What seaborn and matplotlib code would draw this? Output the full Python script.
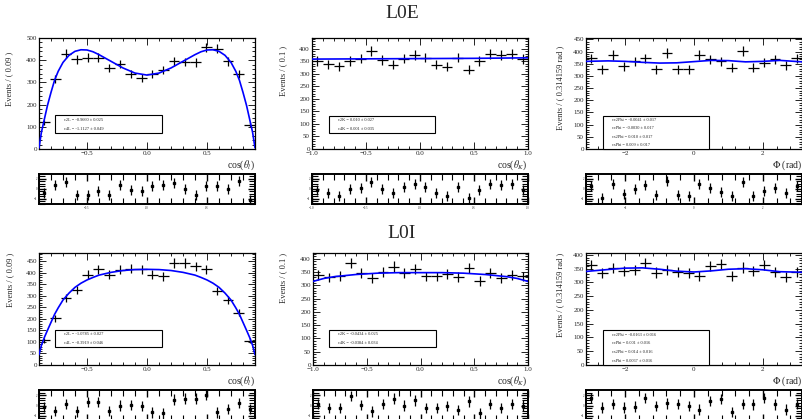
import numpy as np
import matplotlib
matplotlib.use("Agg")
import matplotlib.pyplot as plt
import seaborn as sns
from matplotlib.ticker import MultipleLocator
from matplotlib.patches import Rectangle

sns.set_theme(style="ticks")
plt.rcParams['font.family'] = ['Liberation Serif', 'DejaVu Serif']
plt.rcParams['mathtext.fontset'] = 'stix'
plt.rcParams['axes.unicode_minus'] = True

W, H = 802, 419
PI = np.pi

# ---- L0E data ----
e_cosl_counts = [120, 315, 429, 405, 410, 410, 365, 383, 339, 320,
                 339, 357, 395, 392, 390, 458, 452, 395, 339, 110]
e_cosl_pulls = [-0.8, 0.75, 1.43, -1.16, -1.16, -0.41, -1.16, 0.75, -0.14, -0.41,
                0.55, 0.75, 1.23, 0.07, -1.3, 0.61, 0.61, 0.07, 1.64, -2.2]
e_cosl_fit_x = [-0.9, -0.88, -0.855, -0.83, -0.8, -0.77, -0.74, -0.7, -0.65, -0.6,
                -0.55, -0.5, -0.45, -0.4, -0.3, -0.2, -0.1, 0.0, 0.1, 0.2,
                0.3, 0.4, 0.45, 0.5, 0.55, 0.6, 0.65, 0.7, 0.74, 0.77,
                0.8, 0.83, 0.855, 0.88, 0.9]
e_cosl_fit_y = [5, 75, 135, 195, 255, 310, 350, 390, 422, 440,
                447, 446, 438, 425, 395, 365, 342, 333, 342, 365,
                395, 425, 438, 446, 447, 440, 422, 390, 350, 310,
                255, 195, 135, 75, 5]

e_cosk_counts = [351, 338, 329, 351, 360, 390, 355, 336, 360, 373,
                 364, 336, 328, 364, 316, 351, 377, 373, 377, 358]
e_cosk_pulls = [-0.2, -0.87, -1.33, -0.07, 0.13, 1.47, -0.07, -0.87, 0.33, 0.93,
                0.47, -0.87, -1.33, 0.47, -1.87, -0.2, 1.0, 0.8, 1.0, -0.2]
e_cosk_fit_x = [-1.0, -0.5, 0.0, 0.5, 1.0]
e_cosk_fit_y = [358, 359, 360, 361, 363]

e_phi_counts = [373, 327, 387, 340, 360, 373, 328, 395, 328, 327,
                387, 368, 360, 333, 404, 333, 355, 368, 344, 373]
e_phi_pulls = [0.55, -1.77, 1.09, -1.09, 0.07, 0.75, -1.3, 1.64, -1.3, -1.5,
               1.09, 0.27, -0.61, -1.5, 1.43, -1.5, -0.48, 0.27, -0.82, 0.61]
e_phi_fit_x = [-PI, -2.5, -2.0, -1.5, -1.0, -0.5, 0.0, 0.5, 1.0, 1.5, 2.0, 2.5, PI]
e_phi_fit_y = [360, 362, 360, 356, 353, 354, 359, 364, 363, 358, 360, 364, 358]

# ---- L0I data ----
i_cosl_counts = [108, 202, 292, 324, 392, 415, 392, 414, 418, 415,
                 392, 386, 442, 442, 428, 415, 320, 281, 226, 105]
i_cosl_pulls = [-0.33, -1.0, 0.33, -1.13, 0.67, 0.67, -1.0, 0.0, 0.13, -0.13,
                -1.33, -1.53, 1.13, 1.33, 1.33, 2.0, -1.33, -0.67, 0.53, -0.67]
i_cosl_fit_x = e_cosl_fit_x
i_cosl_fit_y = [45, 85, 120, 150, 185, 220, 248, 282, 312, 337,
                355, 369, 380, 390, 402, 410, 414, 415, 414, 410,
                402, 390, 380, 369, 355, 337, 312, 282, 248, 220,
                185, 150, 120, 85, 45]

i_cosk_counts = [340, 330, 336, 384, 346, 328, 350, 371, 346, 362,
                 334, 334, 342, 331, 365, 317, 346, 328, 340, 334]
i_cosk_pulls = [0.33, -0.53, -0.53, 1.87, 0.13, -1.13, 0.33, 1.33, 0.0, 1.0,
                -0.53, -0.53, -0.13, -0.87, 0.8, -1.53, 0.33, -0.53, 0.33, 0.0]
i_cosk_fit_x = [-1.0, -0.9, -0.8, -0.6, -0.4, -0.2, 0.0, 0.2, 0.4, 0.6, 0.8, 0.9, 1.0]
i_cosk_fit_y = [315, 326, 333, 341, 346, 348, 348, 348, 346, 341, 333, 326, 315]

i_phi_counts = [364, 333, 352, 343, 345, 370, 336, 345, 337, 333,
                324, 360, 367, 324, 354, 342, 364, 337, 319, 337]
i_phi_pulls = [1.4, -0.4, 0.3, -0.4, -0.2, 1.4, -0.1, 0.4, 0.3, -0.1,
               -0.8, 0.9, 1.2, -1.3, 0.3, 0.2, 1.4, 0.2, -0.8, 0.3]
i_phi_fit_x = e_phi_fit_x
i_phi_fit_y = [340, 347, 352, 353, 348, 341, 338, 342, 348, 350, 346, 339, 337]

# fit results printed in the boxes
e_cosl_text = ["c2L = -0.9660 ± 0.025", "c4L = -1.1127 ± 0.049"]
e_cosk_text = ["c2K = 0.010 ± 0.027", "c4K = 0.001 ± 0.035"]
e_phi_text = ["cc2Phi = -0.0041 ± 0.017", "ccPhi = -0.0030 ± 0.017",
              "cs2Phi = 0.010 ± 0.017", "csPhi = 0.009 ± 0.017"]
i_cosl_text = ["c2L = -1.0785 ± 0.027", "c4L = -0.3919 ± 0.046"]
i_cosk_text = ["c2K = -0.0434 ± 0.025", "c4K = -0.0384 ± 0.034"]
i_phi_text = ["cc2Phi = -0.0163 ± 0.016", "ccPhi = 0.001 ± 0.016",
              "cs2Phi = 0.014 ± 0.016", "csPhi = 0.0067 ± 0.016"]

fig = plt.figure(figsize=(W / 100, H / 100), dpi=100)


def add_ax(x0, x1, ytop, ybot):
    return fig.add_axes([x0 / W, 1 - ybot / H, (x1 - x0) / W, (ybot - ytop) / H])


def style(ax, xmaj, xmin, ymaj, ymin, lsize=5):
    ax.xaxis.set_major_locator(MultipleLocator(xmaj))
    ax.xaxis.set_minor_locator(MultipleLocator(xmin))
    ax.yaxis.set_major_locator(MultipleLocator(ymaj))
    ax.yaxis.set_minor_locator(MultipleLocator(ymin))
    ax.tick_params(which='both', direction='in', top=True, right=True,
                   labelsize=lsize, pad=1.5, width=0.6, color='black')
    ax.tick_params(which='major', length=5)
    ax.tick_params(which='minor', length=2.5)
    for s in ax.spines.values():
        s.set_linewidth(0.9)
        s.set_color('black')
    ax.set_facecolor('white')


def panel(x0, x1, ytop, ybot, ptop, pbot, lo, hi, counts, pulls, fx, fy,
          ymax, ymaj, ymin, xmaj, xmin, ylab, ylab_pos, xlab, box, lines,
          pull_xlabels=True):
    n = len(counts)
    w = (hi - lo) / n
    centers = lo + w * (np.arange(n) + 0.5)
    ax = add_ax(x0, x1, ytop, ybot)
    ax.errorbar(centers, counts, xerr=w / 2, yerr=np.sqrt(counts), fmt='none',
                ecolor='black', elinewidth=0.9, capsize=0, zorder=4)
    sns.lineplot(x=fx, y=fy, ax=ax, color='blue', lw=1.2, sort=False, zorder=5)
    ax.set_xlim(lo, hi)
    ax.set_ylim(0, ymax)
    style(ax, xmaj, xmin, ymaj, ymin)
    ax.set_xlabel('')
    ax.set_ylabel('')
    ax.text(ylab_pos[0], ylab_pos[1], ylab, transform=ax.transAxes, rotation=90,
            ha='center', va='top', fontsize=6)
    ax.text(1.0, -0.145, xlab, transform=ax.transAxes, ha='right', va='center',
            fontsize=7)
    bx0, bx1, by0, by1 = box
    ax.add_patch(Rectangle((bx0, by0), bx1 - bx0, by1 - by0, transform=ax.transAxes,
                           facecolor='white', edgecolor='black', lw=0.8, zorder=6,
                           clip_on=False))
    step = (by1 - by0) / len(lines)
    for k, t in enumerate(lines):
        ax.text(bx0 + 0.04, by1 - step * (k + 0.5), t, transform=ax.transAxes,
                ha='left', va='center', fontsize=3.2, zorder=7)

    pax = add_ax(x0, x1, ptop, pbot)
    pax.errorbar(centers, pulls, yerr=1, fmt='s', ms=2, color='black',
                 elinewidth=0.9, capsize=0, zorder=4)
    pax.set_xlim(lo, hi)
    pax.set_ylim(-3, 3)
    style(pax, xmaj, xmin, 2, 0.5, lsize=2.2)
    pax.tick_params(which='major', length=5, width=1.0)
    pax.tick_params(which='minor', length=4, width=0.8)
    if not pull_xlabels:
        pax.tick_params(labelbottom=False)
    for s in pax.spines.values():
        s.set_linewidth(1.4)
    return ax, pax


rows = [
    dict(ytop=38, ybot=149, ptop=174, pbot=204, xlabels=True, data=[
        (39, 255, -0.9, 0.9, e_cosl_counts, e_cosl_pulls, e_cosl_fit_x, e_cosl_fit_y,
         500, 100, 20, 0.5, 0.1, "Events / ( 0.09 )", (-0.139, 0.88),
         r"cos($\theta_{l}$)", (0.074, 0.569, 0.144, 0.306), e_cosl_text),
        (312, 528, -1.0, 1.0, e_cosk_counts, e_cosk_pulls, e_cosk_fit_x, e_cosk_fit_y,
         442, 50, 10, 0.5, 0.1, "Events / ( 0.1 )", (-0.134, 0.93),
         r"cos($\theta_{K}$)", (0.079, 0.569, 0.14, 0.298), e_cosk_text),
        (586, 802, -PI, PI, e_phi_counts, e_phi_pulls, e_phi_fit_x, e_phi_fit_y,
         456, 50, 10, 2, 0.4, "Events / ( 0.314159 rad )", (-0.12, 0.93),
         r"$\Phi$ (rad)", (0.079, 0.569, 0.0, 0.298), e_phi_text),
    ]),
    dict(ytop=253, ybot=365, ptop=390, pbot=421, xlabels=False, data=[
        (39, 255, -0.9, 0.9, i_cosl_counts, i_cosl_pulls, i_cosl_fit_x, i_cosl_fit_y,
         486, 50, 10, 0.5, 0.1, "Events / ( 0.09 )", (-0.134, 1.0),
         r"cos($\theta_{l}$)", (0.074, 0.569, 0.16, 0.31), i_cosl_text),
        (313, 528, -1.0, 1.0, i_cosk_counts, i_cosk_pulls, i_cosk_fit_x, i_cosk_fit_y,
         422, 50, 10, 0.5, 0.1, "Events / ( 0.1 )", (-0.14, 1.0),
         r"cos($\theta_{K}$)", (0.074, 0.572, 0.16, 0.31), i_cosk_text),
        (586, 802, -PI, PI, i_phi_counts, i_phi_pulls, i_phi_fit_x, i_phi_fit_y,
         407, 50, 10, 2, 0.4, "Events / ( 0.314159 rad )", (-0.12, 1.0),
         r"$\Phi$ (rad)", (0.079, 0.569, 0.0, 0.31), i_phi_text),
    ]),
]

for r in rows:
    for d in r['data']:
        (x0, x1, lo, hi, counts, pulls, fx, fy, ymax, ymaj, ymin, xmaj, xmin,
         ylab, ylab_pos, xlab, box, lines) = d
        panel(x0, x1, r['ytop'], r['ybot'], r['ptop'], r['pbot'], lo, hi,
              counts, pulls, fx, fy, ymax, ymaj, ymin, xmaj, xmin,
              ylab, ylab_pos, xlab, box, lines, pull_xlabels=r['xlabels'])

fig.text(402 / W, 1 - 14 / H, "L0E", ha='center', va='center', fontsize=14)
fig.text(402 / W, 1 - 233 / H, "L0I", ha='center', va='center', fontsize=14)

fig.savefig("out.png", dpi=100, facecolor='white')
